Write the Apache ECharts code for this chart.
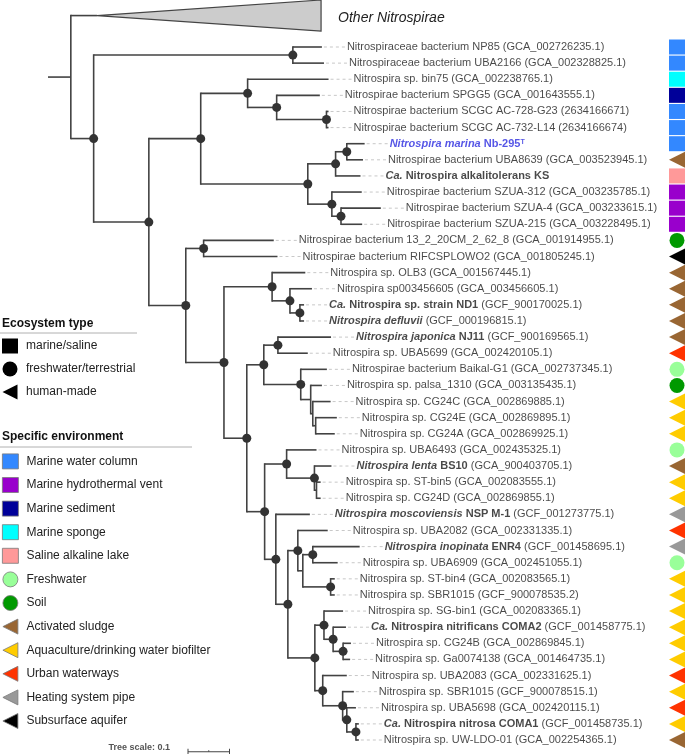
<!DOCTYPE html>
<html><head><meta charset="utf-8">
<script src="https://cdn.jsdelivr.net/npm/echarts@6/dist/echarts.min.js"></script>
<style>html,body{margin:0;padding:0;background:#fff}#c{width:685px;height:754px}</style>
</head><body><div id="c"></div>
<script>
// ---------------- DATA ----------------
const leafLabels = [
  "Nitrospiraceae bacterium NP85 (GCA_002726235.1)",
  "Nitrospiraceae bacterium UBA2166 (GCA_002328825.1)",
  "Nitrospira sp. bin75 (GCA_002238765.1)",
  "Nitrospirae bacterium SPGG5 (GCA_001643555.1)",
  "Nitrospirae bacterium SCGC AC-728-G23 (2634166671)",
  "Nitrospirae bacterium SCGC AC-732-L14 (2634166674)",
  "{m|Nitrospira marina}{mb| Nb-295}{sup|T}",
  "Nitrospirae bacterium UBA8639 (GCA_003523945.1)",
  "{bi|Ca.}{b| Nitrospira alkalitolerans KS}",
  "Nitrospirae bacterium SZUA-312 (GCA_003235785.1)",
  "Nitrospirae bacterium SZUA-4 (GCA_003233615.1)",
  "Nitrospirae bacterium SZUA-215 (GCA_003228495.1)",
  "Nitrospirae bacterium 13_2_20CM_2_62_8 (GCA_001914955.1)",
  "Nitrospirae bacterium RIFCSPLOWO2 (GCA_001805245.1)",
  "Nitrospira sp. OLB3 (GCA_001567445.1)",
  "Nitrospira sp003456605 (GCA_003456605.1)",
  "{bi|Ca.}{b| Nitrospira sp. strain ND1} (GCF_900170025.1)",
  "{bi|Nitrospira defluvii} (GCF_000196815.1)",
  "{bi|Nitrospira japonica}{b| NJ11} (GCF_900169565.1)",
  "Nitrospira sp. UBA5699 (GCA_002420105.1)",
  "Nitrospirae bacterium Baikal-G1 (GCA_002737345.1)",
  "Nitrospira sp. palsa_1310 (GCA_003135435.1)",
  "Nitrospira sp. CG24C (GCA_002869885.1)",
  "Nitrospira sp. CG24E (GCA_002869895.1)",
  "Nitrospira sp. CG24A (GCA_002869925.1)",
  "Nitrospira sp. UBA6493 (GCA_002435325.1)",
  "{bi|Nitrospira lenta}{b| BS10} (GCA_900403705.1)",
  "Nitrospira sp. ST-bin5 (GCA_002083555.1)",
  "Nitrospira sp. CG24D (GCA_002869855.1)",
  "{bi|Nitrospira moscoviensis}{b| NSP M-1} (GCF_001273775.1)",
  "Nitrospira sp. UBA2082 (GCA_002331335.1)",
  "{bi|Nitrospira inopinata}{b| ENR4} (GCF_001458695.1)",
  "Nitrospira sp. UBA6909 (GCA_002451055.1)",
  "Nitrospira sp. ST-bin4 (GCA_002083565.1)",
  "Nitrospira sp. SBR1015 (GCF_900078535.2)",
  "Nitrospira sp. SG-bin1 (GCA_002083365.1)",
  "{bi|Ca.}{b| Nitrospira nitrificans COMA2} (GCF_001458775.1)",
  "Nitrospira sp. CG24B (GCA_002869845.1)",
  "Nitrospira sp. Ga0074138 (GCA_001464735.1)",
  "Nitrospira sp. UBA2083 (GCA_002331625.1)",
  "Nitrospira sp. SBR1015 (GCF_900078515.1)",
  "Nitrospira sp. UBA5698 (GCA_002420115.1)",
  "{bi|Ca.}{b| Nitrospira nitrosa COMA1} (GCF_001458735.1)",
  "Nitrospira sp. UW-LDO-01 (GCA_002254365.1)"
];
const leafEnv = [0,0,3,2,0,0,0,7,4,1,1,1,6,11,7,7,7,7,7,9,5,6,8,8,8,5,7,8,8,10,9,10,5,8,8,8,8,8,8,9,8,9,8,7];
const leafParent = ['C','C','F','G','H','H','K','K','J','L','M','M','O','O','Q','R','S','S','W','W','X','Y','Y2','Y3','Y3','AA','Z','ZZ','ZZ','BB','DD','FF','FF','GG','GG','II','KK','LL','LL','JJ','MM','NN','OO','OO'];
const leafBranch = [0.070,0.075,0.195,0.104,0.005,0.005,0.043,0.039,0.060,0.072,0.096,0.051,0.169,0.178,0.080,0.053,0.010,0.010,0.128,0.072,0.063,0.027,0.043,0.051,0.046,0.072,0.041,0.010,0.010,0.082,0.072,0.113,0.060,0.010,0.010,0.046,0.031,0.019,0.017,0.058,0.027,0.022,0.007,0.007];

const nodeIds     = ['A','B','C','D','E','F','G','H','I','J','K','L','M','N','O','P','Q','R','S','T','V','W','X','Y','Y2','Y3','U','AA','Z','ZZ','BB','CC','DD','HH','FF','GG','EE','II','KK','LL','JJ','MM','NN','OO'];
const nodeParent  = ['root','A','B','B','D','E','F','G','E','I','J','I','L','D','N','N','P','Q','R','P','T','V','V','X','Y','Y2','T','U','AA','Z','U','BB','CC','DD','HH','HH','CC','EE','II','KK','EE','JJ','MM','NN'];
const nodeBranch  = [0.055,0.055,0.480,0.133,0.125,0.113,0.070,0.120,0.258,0.067,0.027,0.058,0.022,0.089,0.043,0.092,0.116,0.043,0.024,0.055,0.041,0.034,0.089,0.024,0.005,0.007,0.043,0.053,0.067,0.005,0.027,0.029,0.024,0.012,0.024,0.067,0.065,0.022,0.022,0.024,0.019,0.048,0.010,0.022];
const nodeSupport = [0,1,1,1,1,1,1,1,1,1,1,1,1,1,1,1,1,1,1,1,1,1,1,0,0,0,1,1,1,0,1,1,1,0,1,1,1,1,1,1,1,1,1,1];

const collapsedName = 'Other Nitrospirae';
const collapsedParent = 'A';
const collapsedBranch = 0.063;
const collapsedDepth = 0.540;

const envNames = ['Marine water column','Marine hydrothermal vent','Marine sediment','Marine sponge','Saline alkaline lake','Freshwater','Soil','Activated sludge','Aquaculture/drinking water biofilter','Urban waterways','Heating system pipe','Subsurface aquifer'];
const envColors = ['#3388ff','#9900cc','#000099','#00ffff','#ff9999','#99ff99','#009900','#996633','#ffcc00','#ff3300','#999999','#000000'];
const envShape = [0,0,0,0,0,1,1,2,2,2,2,2];
const ecoNames = ['marine/saline','freshwater/terrestrial','human-made'];
const scaleBarLength = 0.1;

// ---------------- LAYOUT CONSTANTS ----------------
const FONT = "'Liberation Sans', Arial, sans-serif";
const gridLeft = 48, pxPerUnit = 415;
const collapsedRow = -1.95, collapsedHalfRows = 0.965;
const symbolColX = (677 - gridLeft) / pxPerUnit;
const scaleBarStart = (188 - gridLeft) / pxPerUnit, scaleBarRow = 43.73;
const TRI = 'path://M16,0 L16,16 L0,8 Z';
const shapeSymbols = ['rect','circle',TRI];
const shapeSizes = [[16,15],[15,15],[16,16]];

// ---------------- TREE LAYOUT ----------------
const X = {root: 0}, Y = {}, childYs = {};
nodeIds.forEach((id, i) => { X[id] = X[nodeParent[i]] + nodeBranch[i]; childYs[id] = []; });
const leafX = leafLabels.map((_, i) => X[leafParent[i]] + leafBranch[i]);
leafLabels.forEach((_, i) => childYs[leafParent[i]].push(i));
const collapsedX = X[collapsedParent] + collapsedBranch;
childYs[collapsedParent].push(collapsedRow);
for (let i = nodeIds.length - 1; i >= 0; i--) {
  const id = nodeIds[i], ys = childYs[id];
  Y[id] = (Math.min(...ys) + Math.max(...ys)) / 2;
  if (nodeParent[i] !== 'root') childYs[nodeParent[i]].push(Y[id]);
}
const branchData = [];
nodeIds.forEach((id, i) => {
  const ys = childYs[id];
  branchData.push([X[id], Y[id], X[nodeParent[i]], Math.min(...ys), Math.max(...ys), 0]);
});
leafLabels.forEach((_, i) => branchData.push([leafX[i], i, X[leafParent[i]], i, i, 1]));
branchData.push([collapsedX, collapsedRow, X[collapsedParent], 0, 0, 2]);
const supportData = nodeIds.filter((id, i) => nodeSupport[i]).map(id => [X[id], Y[id]]);

const LINE = '#424242';
function renderBranch(params, api) {
  const x = api.value(0), y = api.value(1), px = api.value(2), vmin = api.value(3), vmax = api.value(4), kind = api.value(5);
  const p = api.coord([x, y]), pp = api.coord([px, y]);
  const els = [{type: 'line', shape: {x1: pp[0], y1: p[1], x2: p[0], y2: p[1]}, style: {stroke: LINE, lineWidth: 1.6}}];
  if (kind === 0) {
    const a = api.coord([x, vmin]), b = api.coord([x, vmax]);
    els.push({type: 'line', shape: {x1: a[0], y1: a[1] - 0.8, x2: b[0], y2: b[1] + 0.8}, style: {stroke: LINE, lineWidth: 1.6}});
  } else if (kind === 1) {
    els.push({type: 'line', shape: {x1: p[0] + 2, y1: p[1], x2: p[0] + 23, y2: p[1]}, style: {stroke: '#c8c8c8', lineWidth: 1, lineDash: [3, 3]}});
  } else {
    const t = api.coord([x + collapsedDepth, y - collapsedHalfRows]), b = api.coord([x + collapsedDepth, y + collapsedHalfRows]);
    els.push({type: 'polygon', shape: {points: [p, t, b]}, style: {fill: '#cccccc', stroke: '#444', lineWidth: 1.2}});
    els.push({type: 'text', style: {x: t[0] + 17, y: p[1] + 2.5, text: collapsedName, font: 'italic 14px ' + FONT, fill: '#222', verticalAlign: 'middle'}});
  }
  return {type: 'group', children: els};
}
function renderScale(params, api) {
  const a = api.coord([api.value(0), api.value(1)]), b = api.coord([api.value(0) + scaleBarLength, api.value(1)]);
  const st = {stroke: '#444', lineWidth: 1};
  return {type: 'group', children: [
    {type: 'line', shape: {x1: a[0], y1: a[1], x2: b[0], y2: b[1]}, style: st},
    {type: 'line', shape: {x1: a[0], y1: a[1] - 3, x2: a[0], y2: a[1] + 3}, style: st},
    {type: 'line', shape: {x1: b[0], y1: b[1] - 3, x2: b[0], y2: b[1] + 3}, style: st},
    {type: 'line', shape: {x1: (a[0] + b[0]) / 2, y1: a[1] - 1.5, x2: (a[0] + b[0]) / 2, y2: a[1]}, style: st},
    {type: 'text', style: {x: a[0] - 18, y: a[1] - 4, text: 'Tree scale: ' + scaleBarLength, font: 'bold 9px ' + FONT, fill: '#555', align: 'right', verticalAlign: 'middle'}}
  ]};
}

const txt = {fontSize: 11, fontFamily: FONT, color: '#1a1a1a'};
const series = [
  {type: 'custom', renderItem: renderBranch, data: branchData, clip: false, silent: true, z: 2},
  {type: 'scatter', data: supportData, symbolSize: 9, itemStyle: {color: '#333333', opacity: 1}, clip: false, silent: true, z: 3},
  {type: 'scatter', data: leafX.map((x, i) => [x, i]), symbolSize: 0, clip: false, silent: true, z: 4,
    label: {show: true, position: 'right', distance: 25, formatter: p => leafLabels[p.dataIndex], ...txt,
      rich: {
        b: {...txt, fontWeight: 'bold'},
        bi: {...txt, fontWeight: 'bold', fontStyle: 'italic'},
        m: {...txt, fontWeight: 'bold', fontStyle: 'italic', color: '#2a2ae0'},
        mb: {...txt, fontWeight: 'bold', color: '#2a2ae0'},
        sup: {fontFamily: FONT, fontSize: 7, fontWeight: 'bold', color: '#2a2ae0', verticalAlign: 'top'}
      }}},
  {type: 'custom', renderItem: renderScale, data: [[scaleBarStart, scaleBarRow]], clip: false, silent: true}
];
envNames.forEach((name, k) => {
  series.push({type: 'scatter', name, symbol: shapeSymbols[envShape[k]], symbolSize: shapeSizes[envShape[k]], symbolKeepAspect: false,
    itemStyle: {color: envColors[k], opacity: 1}, clip: false, silent: true, z: 3,
    data: leafEnv.map((e, i) => e === k ? [symbolColX, i] : null).filter(d => d)});
});
ecoNames.forEach((name, k) => {
  series.push({type: 'scatter', name, symbol: shapeSymbols[k], symbolSize: shapeSizes[k], itemStyle: {color: '#000', opacity: 1}, data: []});
});

const legTxt = {fontSize: 12, fontFamily: FONT, color: '#222', lineHeight: 15, padding: [0, 0, 0, 3]};
const option = {
  animation: false,
  backgroundColor: '#fff',
  grid: {left: gridLeft, right: 0, top: 47, bottom: 14},
  xAxis: {type: 'value', min: 0, max: (685 - gridLeft) / pxPerUnit, show: false},
  yAxis: {type: 'value', min: 0, max: 43, inverse: true, show: false},
  legend: [
    {data: ecoNames, orient: 'vertical', left: 2, top: 338.5, padding: 0, itemWidth: 16, itemHeight: 15, itemGap: 8, selectedMode: false, textStyle: legTxt,
      itemStyle: {opacity: 1}},
    {data: envNames, orient: 'vertical', left: 2, top: 453.5, padding: 0, itemWidth: 16, itemHeight: 15, itemGap: 7.8, selectedMode: false, textStyle: legTxt,
      itemStyle: {borderColor: '#7a7a7a', borderWidth: 0.8, opacity: 1}}
  ],
  graphic: [
    {type: 'text', style: {x: 2, y: 324, text: 'Ecosystem type', font: 'bold 12px ' + FONT, fill: '#111', verticalAlign: 'middle'}},
    {type: 'line', shape: {x1: 0, y1: 333, x2: 137, y2: 333}, style: {stroke: '#b0b0b0', lineWidth: 1}},
    {type: 'text', style: {x: 2, y: 437, text: 'Specific environment', font: 'bold 12px ' + FONT, fill: '#111', verticalAlign: 'middle'}},
    {type: 'line', shape: {x1: 0, y1: 447, x2: 192, y2: 447}, style: {stroke: '#b0b0b0', lineWidth: 1}}
  ],
  series
};
const chart = echarts.init(document.getElementById('c'));
chart.setOption(option);
</script></body></html>
